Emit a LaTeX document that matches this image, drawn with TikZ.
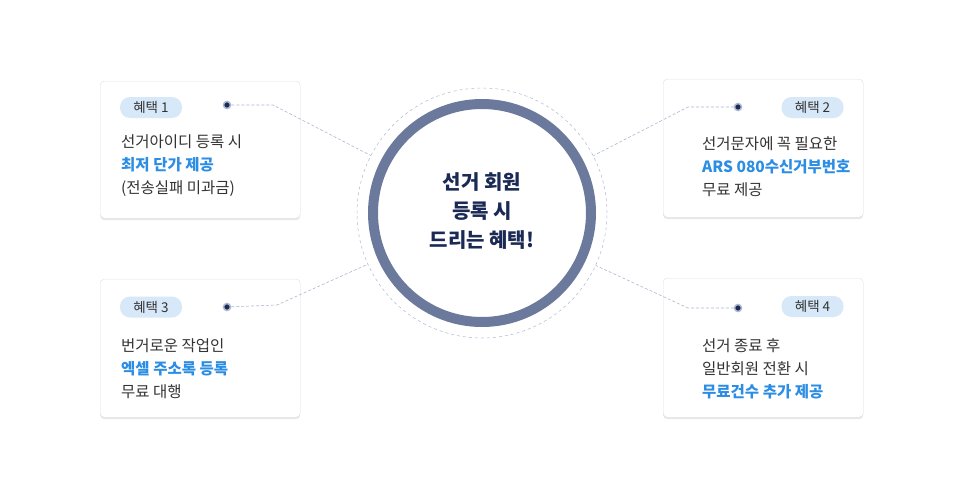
\documentclass[tikz,border=0pt]{standalone}
\usepackage{fontspec}
\setmainfont{Noto Sans CJK KR}
\usetikzlibrary{shadows}
\definecolor{ringcol}{HTML}{6B7A9C}
\definecolor{navy}{HTML}{1B2A55}
\definecolor{linkcol}{HTML}{AEB7D0}
\definecolor{badgecol}{HTML}{D7E8F8}
\definecolor{hilite}{HTML}{2B8DE3}
\definecolor{bodytext}{HTML}{333333}
\tikzset{
  card/.style={draw=black!12, fill=white, rounded corners=4pt, minimum width=200pt,
    drop shadow={opacity=0.18, shadow xshift=0pt, shadow yshift=-2pt}},
  badge/.style={fill=badgecol, rounded corners=10pt, minimum width=62pt, minimum height=21pt,
    inner sep=0pt, text=bodytext, font=\fontsize{13.5}{14}\selectfont},
  pin/.style={circle, fill=navy, draw=linkcol, line width=1.5pt, inner sep=0pt, minimum size=7pt},
  link/.style={draw=linkcol, densely dashed, line width=0.6pt},
  body/.style={anchor=north west, align=left, text=bodytext, inner sep=0pt,
    font=\fontsize{15.5}{23}\selectfont}
}
\begin{document}
\begin{tikzpicture}[x=1pt,y=-1pt]
    \useasboundingbox (0,0) rectangle (966,495);
    %% centre circle
    \node[circle, draw=linkcol, dashed, line width=0.5pt, minimum size=250pt, inner sep=0pt] (hub) at (482,213) {};
    \draw[ringcol, line width=10pt] (hub.center) circle (109pt);
    \node[align=center, text=navy, font=\fontsize{20}{29}\selectfont\bfseries] (title) at (482,211)
      {선거 회원\\등록 시\\드리는 혜택!};
    %% benefit 1
    \node[card, minimum height=137pt, anchor=north west] (card1) at (100,81) {};
    \node[badge] (badge1) at (151,107.5) {혜택 1};
    \node[pin] (pin1) at (227,105) {};
    \coordinate (bend1) at (273,105);
    \node[body] (text1) at (121,134) {선거아이디 등록 시\\\textcolor{hilite}{\bfseries 최저 단가 제공}\\(전송실패 미과금)};
    %% benefit 2
    \node[card, minimum height=138pt, anchor=north west] (card2) at (663,79) {};
    \node[badge] (badge2) at (812.5,107.5) {혜택 2};
    \node[pin] (pin2) at (738,107) {};
    \coordinate (bend2) at (688,107);
    \node[body] (text2) at (702,136) {선거문자에 꼭 필요한\\\textcolor{hilite}{\bfseries ARS 080수신거부번호}\\무료 제공};
    %% benefit 3
    \node[card, minimum height=138pt, anchor=north west] (card3) at (100,279) {};
    \node[badge] (badge3) at (151,307) {혜택 3};
    \node[pin] (pin3) at (227,307) {};
    \coordinate (bend3) at (277,305);
    \node[body] (text3) at (121,338) {번거로운 작업인\\\textcolor{hilite}{\bfseries 엑셀 주소록 등록}\\무료 대행};
    %% benefit 4
    \node[card, minimum height=139pt, anchor=north west] (card4) at (663,278) {};
    \node[badge] (badge4) at (812.5,306.5) {혜택 4};
    \node[pin] (pin4) at (738,308) {};
    \coordinate (bend4) at (688,308);
    \node[body] (text4) at (702,338) {선거 종료 후\\일반회원 전환 시\\\textcolor{hilite}{\bfseries 무료건수 추가 제공}};
    %% links
    \draw[link] (pin1) -- (bend1) -- (hub);
    \draw[link] (pin2) -- (bend2) -- (hub);
    \draw[link] (pin3) -- (bend3) -- (hub);
    \draw[link] (pin4) -- (bend4) -- (hub);
\end{tikzpicture}
\end{document}
